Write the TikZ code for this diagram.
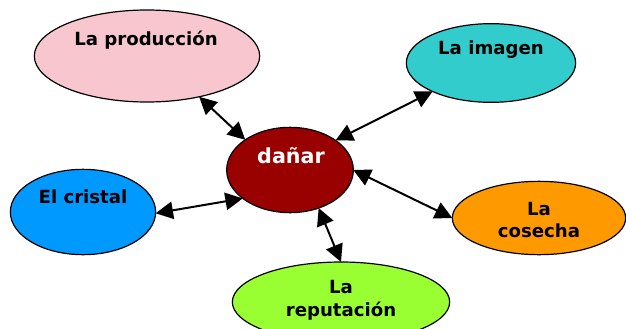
\documentclass[tikz,border=0pt]{standalone}
\usepackage{fontspec}
\setmainfont{DejaVu Sans}
\usetikzlibrary{arrows.meta,shapes.geometric}
\definecolor{prodpink}{HTML}{F7C6CE}
\definecolor{imgteal}{HTML}{33CCCC}
\definecolor{danarred}{HTML}{990000}
\definecolor{cristalblue}{HTML}{0099FF}
\definecolor{cosechaorange}{HTML}{FF9900}
\definecolor{reputgreen}{HTML}{99FF33}

\begin{document}
\begin{tikzpicture}[x=0.75pt, y=-0.75pt,
    bubble/.style={ellipse, draw=black, line width=0.9pt, inner sep=0pt, outer sep=0pt},
    word/.style={font=\fontsize{13.6}{16}\selectfont\bfseries, align=center},
    link/.style={{Triangle[length=13pt,width=13pt]}-{Triangle[length=13pt,width=13pt]}, line width=1.5pt}]
    \useasboundingbox (0,0) rectangle (626,329);

    % Ellipses
    \node[bubble, fill=prodpink, minimum width=169pt, minimum height=69pt] (prod) at (147,56) {};
    \node[bubble, fill=imgteal, minimum width=127pt, minimum height=59pt] (img) at (491,63) {};
    \node[bubble, fill=danarred, minimum width=95pt, minimum height=64pt] (danar) at (290,170) {};
    \node[bubble, fill=cristalblue, minimum width=109pt, minimum height=64pt] (cristal) at (83,212) {};
    \node[bubble, fill=cosechaorange, minimum width=130pt, minimum height=55pt] (cosecha) at (539,218) {};
    \node[bubble, fill=reputgreen, minimum width=163pt, minimum height=60pt] (reput) at (341,302) {};

    % Labels
    \node[word] (prodtxt) at (146,40) {La producción};
    \node[word] (imgtxt) at (491,50) {La imagen};
    \node[word, text=white, font=\fontsize{15.5}{18}\selectfont\bfseries] (danartxt) at (291,156) {dañar};
    \node[word] (cosechatxt) at (539,220) {La\\cosecha};
    \node[word] (cristaltxt) at (83,197) {El cristal};
    \node[word, font=\fontsize{13.6}{17}\selectfont\bfseries] (reputtxt) at (341,300) {La\\reputación};

    % Links
    \draw[link] (prod.-38) -- (danar.146);
    \draw[link] (img.206) -- (danar.33);
    \draw[link] (cristal.-1) -- (danar.211);
    \draw[link] (cosecha.180) -- (danar.0);
    \draw[link] (reput.90) -- (danar.-53);
\end{tikzpicture}
\end{document}
